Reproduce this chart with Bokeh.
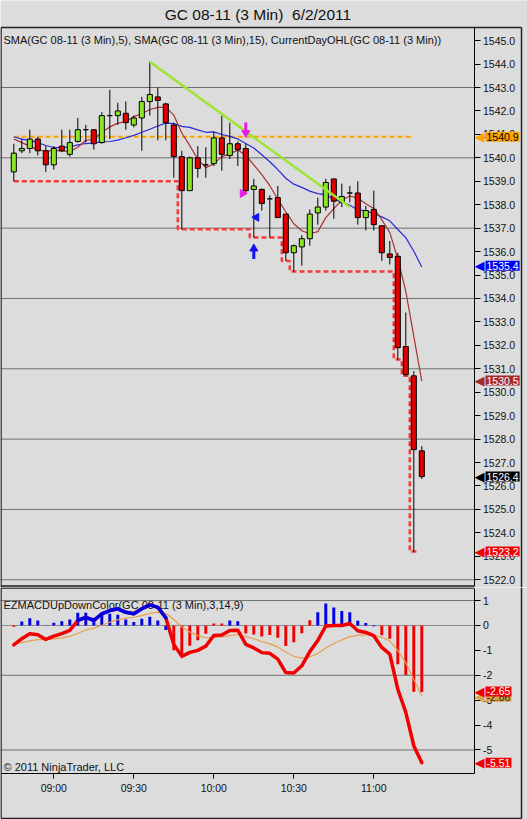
import numpy as np
import pandas as pd
from bokeh.plotting import figure
from bokeh.models import Range1d, FixedTicker, Label, NumeralTickFormatter, ColumnDataSource
from bokeh.layouts import column
from bokeh.embed import file_html
from bokeh.resources import INLINE

# ---------------- data ----------------
TITLE = "GC 08-11 (3 Min)\u00a0 6/2/2011"
PRICE_LEGEND = "SMA(GC 08-11 (3 Min),5), SMA(GC 08-11 (3 Min),15), CurrentDayOHL(GC 08-11 (3 Min))"
MACD_LEGEND = "EZMACDUpDownColor(GC 08-11 (3 Min),3,14,9)"
COPYRIGHT = "\u00a9 2011 NinjaTrader, LLC"

first_bar = "08:45"
bar_minutes = 3

opens = [1539.4, 1540.3, 1540.4, 1540.8, 1540.3, 1539.7, 1540.5, 1540.15, 1540.7, 1541.2,
         1541.2, 1540.65, 1541.8, 1541.8, 1541.9, 1541.4, 1541.7, 1542.4, 1542.6, 1542.3,
         1541.4, 1540.05, 1538.6, 1540.0, 1539.7, 1539.75, 1540.85, 1540.1, 1540.6, 1540.4,
         1538.65, 1538.65, 1538.25, 1538.3, 1537.6, 1535.95, 1536.2, 1536.55, 1537.65, 1537.9,
         1539.1, 1538.1, 1538.5, 1538.5, 1537.45, 1537.8, 1537.1, 1535.9, 1535.8, 1531.95,
         1530.7, 1527.5]
highs = [1540.6, 1540.8, 1541.2, 1540.9, 1540.5, 1540.5, 1541.2, 1541.2, 1541.7, 1541.4,
         1541.2, 1541.95, 1542.9, 1542.35, 1542.4, 1541.8, 1542.6, 1544.1, 1543.0, 1542.35,
         1541.5, 1540.3, 1540.05, 1540.5, 1540.45, 1541.1, 1541.8, 1541.5, 1540.7, 1540.6,
         1539.1, 1538.7, 1538.4, 1538.8, 1537.6, 1536.3, 1536.7, 1537.8, 1538.3, 1539.1,
         1539.1, 1538.9, 1538.8, 1539.0, 1537.95, 1538.6, 1537.1, 1536.45, 1535.95, 1533.4,
         1530.9, 1527.7]
lows = [1539.0, 1540.2, 1540.2, 1540.1, 1539.4, 1539.5, 1540.25, 1540.05, 1540.65, 1540.65,
        1540.35, 1540.6, 1540.8, 1541.4, 1541.2, 1541.3, 1540.3, 1541.8, 1540.75, 1540.75,
        1539.15, 1536.95, 1538.6, 1539.15, 1539.15, 1539.65, 1539.45, 1539.95, 1539.65, 1538.5,
        1536.6, 1537.75, 1536.6, 1537.45, 1535.6, 1535.15, 1535.4, 1536.25, 1537.15, 1537.75,
        1537.4, 1537.9, 1538.1, 1537.15, 1536.9, 1536.9, 1535.6, 1535.45, 1531.4, 1530.7,
        1523.2, 1526.3]
closes = [1540.2, 1540.4, 1540.8, 1540.3, 1539.7, 1540.4, 1540.3, 1540.65, 1541.2, 1541.2,
          1540.6, 1541.8, 1541.8, 1542.0, 1541.5, 1541.7, 1542.4, 1542.7, 1542.45, 1541.5,
          1540.05, 1538.6, 1540.0, 1539.55, 1539.7, 1540.85, 1540.15, 1540.6, 1540.35, 1538.6,
          1538.8, 1538.05, 1538.25, 1537.45, 1535.95, 1536.25, 1536.55, 1537.6, 1537.9, 1538.95,
          1538.15, 1538.35, 1538.5, 1537.45, 1537.75, 1537.15, 1535.95, 1535.75, 1531.9, 1530.75,
          1527.55, 1526.4]
# closes of the bars just before the visible window (estimated from where the averages start)
prior_closes = [1541.9, 1541.6, 1541.8, 1541.5, 1541.7, 1540.4, 1540.1, 1540.0, 1540.3,
                1540.2, 1541.15, 1541.55, 1541.1, 1540.0]
day_open = 1540.9

macd = [-0.78, -0.53, -0.33, -0.37, -0.56, -0.43, -0.33, -0.2, 0.2, 0.33,
        0.2, 0.47, 0.6, 0.67, 0.53, 0.47, 0.67, 0.83, 0.73, 0.31,
        -0.76, -1.24, -1.08, -1.0, -0.83, -0.4, -0.38, -0.2, -0.19, -0.76,
        -0.9, -1.09, -1.12, -1.35, -1.89, -1.91, -1.62, -1.05, -0.6, -0.02,
        0.0, 0.0, 0.08, -0.21, -0.28, -0.41, -0.88, -1.15, -2.56, -3.49,
        -4.83, -5.51]
signal_first = -0.73
signal_period = 9
hist_blue = [0, 1, 1, 1, 1, 1, 1, 1, 1, 1,
             1, 1, 1, 1, 1, 1, 1, 1, 1, 1,
             0, 0, 0, 0, 0, 0, 0, 1, 1, 0,
             0, 0, 0, 0, 0, 0, 0, 0, 1, 1,
             1, 1, 1, 1, 1, 1, 0, 0, 0, 0,
             0, 0]

trend_times = ["09:36", "10:51"]
trend_prices = [1544.1, 1537.9]

arrow_times = ["10:12", "10:15"]
arrow_tips = [1540.87, 1536.32]
arrow_dirs = ["down", "up"]
arrow_colors = ["#E61EE6", "#1414F0"]

tri_times = ["10:10:48", "10:16:00"]
tri_prices = [1538.48, 1537.46]
tri_dirs = ["right", "left"]
tri_colors = ["#E61EE6", "#1414F0"]

price_ticks = [1522.0, 1523.0, 1524.0, 1525.0, 1526.0, 1527.0, 1528.0, 1529.0, 1530.0, 1531.0,
               1532.0, 1533.0, 1534.0, 1535.0, 1536.0, 1537.0, 1538.0, 1539.0, 1540.0, 1541.0,
               1542.0, 1543.0, 1544.0, 1545.0]
price_grid = [1522.0, 1525.0, 1528.0, 1531.0, 1534.0, 1537.0, 1540.0, 1543.0]
macd_ticks = [1, 0, -1, -2, -3, -4, -5]
macd_grid = [1, -2, -5]
time_ticks = ["09:00", "09:30", "10:00", "10:30", "11:00"]

price_tag_values = [1540.9, 1535.4, 1530.5, 1526.4, 1523.2]
price_tag_fill = ["#FFA500", "#0000F0", "#A52A2A", "#000000", "#F00000"]
price_tag_text = ["#000000", "#FFFFFF", "#FFFFFF", "#FFFFFF", "#FFFFFF"]

macd_tag_values = [-2.86, -2.65, -5.51]
macd_tag_fill = ["#DCA64E", "#F00000", "#F00000"]
macd_tag_text = ["#222222", "#FFFFFF", "#FFFFFF"]

# ---------------- helpers ----------------
def to_min(s):
    parts = [float(v) for v in s.split(":")]
    mm = parts[0] * 60 + parts[1]
    if len(parts) > 2:
        mm += parts[2] / 60.0
    return mm

n = len(closes)
t = np.array([to_min(first_bar) + bar_minutes * i for i in range(n)], float)
o = np.array(opens); h = np.array(highs); l = np.array(lows); c = np.array(closes)

allc = pd.Series(prior_closes + closes)
sma5 = allc.rolling(5).mean().values[len(prior_closes):]
sma15 = allc.rolling(15).mean().values[len(prior_closes):]
day_low = np.minimum.accumulate(l)

m = np.array(macd)
alpha = 2.0 / (signal_period + 1)
sig = [signal_first]
for v in m[1:]:
    sig.append(sig[-1] + alpha * (v - sig[-1]))
sig = np.array(sig)
hist = m - sig

# ---------------- geometry (canvas pixels) ----------------
BG = "#DCDCDC"
FONT = "Liberation Sans"
W = 527
P1_H = 587          # price canvas height
P2_H = 232          # macd canvas height
PX_PER_MIN = 8.0 / 3.0
PX_PER_PT = 23.44
PX_PER_UNIT = 24.9
AXIS_PX = 473.5     # x pixel of the value axis line
RIGHT_EDGE = 521.0
PANEL_TOP = 27      # y pixel of the price panel top border
PANEL_BOTTOM = 585.5
MACD_BOTTOM = 186   # macd panel bottom (time axis), in macd canvas pixels
OUTER_BOTTOM = 231.0

x_start = t[0] - 13.3 / PX_PER_MIN
xr = Range1d(x_start, x_start + W / PX_PER_MIN)

def px_x(px):
    return x_start + px / PX_PER_MIN

price_top = 1545.56  # price at the panel top border
def py_price(py):
    return price_top - (py - PANEL_TOP) / PX_PER_PT
yr1 = Range1d(py_price(P1_H), py_price(0))

macd_top = 1.485     # value one pixel below the macd canvas top
def py_macd(py):
    return macd_top - (py - 1) / PX_PER_UNIT
yr2 = Range1d(py_macd(P2_H), py_macd(0))

axis_x = px_x(AXIS_PX)
right_x = px_x(RIGHT_EDGE)
left_x = px_x(0.5)
GREEN = "#8CE628"
RED = "#E00000"
BORDER = "#202020"

def style_value_axis(ax):
    ax.fixed_location = axis_x
    ax.major_tick_out = 6
    ax.major_tick_in = 0
    ax.minor_tick_line_color = None
    ax.major_label_standoff = 3
    ax.major_label_text_font = FONT
    ax.major_label_text_font_size = "10.5px"
    ax.major_label_text_color = "#111111"
    ax.axis_line_color = "black"

def add_tags(p, values, fills, texts, fmt):
    for v, f, tc in zip(values, fills, texts):
        p.add_layout(Label(x=px_x(484), y=v, text="\u25C0", text_align="right",
                           text_baseline="middle", text_font="DejaVu Sans",
                           text_font_size="13px", text_color=f))
        p.add_layout(Label(x=px_x(485), y=v, text=fmt.format(v), text_align="left",
                           text_baseline="middle", text_font=FONT, text_font_size="10.5px",
                           text_color=tc, background_fill_color=f, padding=1))

# ---------------- price panel ----------------
p1 = figure(frame_width=W, frame_height=P1_H, x_range=xr, y_range=yr1,
            output_backend="svg", toolbar_location=None, x_axis_location=None,
            y_axis_location="right", min_border=0,
            background_fill_color=BG, border_fill_color=BG)
p1.outline_line_color = None
p1.grid.visible = False
p1.yaxis.ticker = FixedTicker(ticks=price_ticks)
p1.yaxis.formatter = NumeralTickFormatter(format="0.0")
style_value_axis(p1.yaxis[0])
p1.yaxis.bounds = (py_price(PANEL_BOTTOM), price_top)

# grid lines and borders
pg = np.array(price_grid)
p1.segment(np.full(len(pg), xr.start), pg, np.full(len(pg), axis_x), pg,
           line_color="#6E6E6E", line_width=1)
p1.line([left_x, right_x], [price_top, price_top], line_color=BORDER, line_width=1.5)
p1.line([left_x, axis_x], [py_price(PANEL_BOTTOM)] * 2, line_color=BORDER, line_width=1.5)
p1.segment([left_x, right_x], [price_top] * 2, [left_x, right_x], [yr1.start] * 2,
           line_color=BORDER, line_width=1.5)

# current day open
p1.line(t[:n - 1], np.full(n - 1, day_open), line_color="#FFA500", line_width=2, line_dash="5 3")
# averages
p1.line(t, sma15, line_color="#2A2AD8", line_width=1.2)
p1.line(t, sma5, line_color="#A83232", line_width=1.2)
# current day low (step)
lx = np.append(t[:n - 1], t[n - 2] + bar_minutes / 2.0)
ly = np.append(day_low[:n - 1], day_low[n - 2])
p1.step(lx, ly, mode="center", line_color="#F03C3C", line_width=2.5, line_dash="5 3")

src = ColumnDataSource(dict(t=t, top=np.maximum(o, c), bottom=np.minimum(o, c), high=h, low=l,
                            fill=[GREEN if cc >= oo else RED for oo, cc in zip(o, c)]))
p1.segment("t", "high", "t", "low", source=src, line_color="black", line_width=1)
p1.vbar("t", 1.9, "top", "bottom", source=src, fill_color="fill", line_color="black", line_width=1)

# trend line
p1.line([to_min(s) for s in trend_times], trend_prices, line_color="#9AE632", line_width=2.5)

# arrows
HEAD = 8.0
hh = HEAD * np.sqrt(3) / 2
for ts, tip, d, col in zip(arrow_times, arrow_tips, arrow_dirs, arrow_colors):
    x = to_min(ts)
    s = 1 if d == "down" else -1
    center = tip + s * (2 * hh / 3) / PX_PER_PT
    p1.scatter([x], [center], marker="inverted_triangle" if d == "down" else "triangle",
               size=HEAD, fill_color=col, line_color=col)
    p1.segment([x], [tip + s * hh / PX_PER_PT], [x], [tip + s * 15 / PX_PER_PT],
               line_color=col, line_width=3)
for ts, pr, d, col in zip(tri_times, tri_prices, tri_dirs, tri_colors):
    p1.scatter([to_min(ts)], [pr], marker="triangle", size=8,
               angle=(-np.pi / 2 if d == "right" else np.pi / 2), fill_color=col, line_color=col)

# texts
p1.add_layout(Label(x=px_x(257.5), y=py_price(13.5), text=TITLE, text_align="center",
                    text_baseline="middle", text_font=FONT, text_font_size="15.5px",
                    text_color="#111111"))
p1.add_layout(Label(x=px_x(3), y=py_price(39), text=PRICE_LEGEND, text_align="left",
                    text_baseline="middle", text_font=FONT, text_font_size="11px",
                    text_color="#111111"))
add_tags(p1, price_tag_values, price_tag_fill, price_tag_text, "{:.1f}")

# ---------------- MACD panel ----------------
p2 = figure(frame_width=W, frame_height=P2_H, x_range=xr, y_range=yr2,
            output_backend="svg", toolbar_location=None, x_axis_location="below",
            y_axis_location="right", min_border=0,
            background_fill_color=BG, border_fill_color=BG)
p2.outline_line_color = None
p2.grid.visible = False
p2.yaxis.ticker = FixedTicker(ticks=macd_ticks)
p2.yaxis.major_label_overrides = {v: str(v) for v in macd_ticks}
style_value_axis(p2.yaxis[0])
p2.yaxis.bounds = (py_macd(MACD_BOTTOM), py_macd(0.5))

tick_min = [to_min(s) for s in time_ticks]
p2.xaxis.ticker = FixedTicker(ticks=tick_min)
p2.xaxis.major_label_overrides = {k: s for k, s in zip(tick_min, time_ticks)}
p2.xaxis.fixed_location = py_macd(MACD_BOTTOM)
p2.xaxis.bounds = (left_x, axis_x)
p2.xaxis.major_tick_out = 5
p2.xaxis.major_tick_in = 0
p2.xaxis.minor_tick_line_color = None
p2.xaxis.major_label_standoff = 3
p2.xaxis.major_label_text_font = FONT
p2.xaxis.major_label_text_font_size = "10.5px"
p2.xaxis.major_label_text_color = "#111111"
p2.xaxis.axis_line_color = "black"

mg = np.array(macd_grid, float)
p2.segment(np.full(len(mg), xr.start), mg, np.full(len(mg), axis_x), mg,
           line_color="#6E6E6E", line_width=1)
p2.line([left_x, axis_x], [py_macd(0.5)] * 2, line_color=BORDER, line_width=1.5)
p2.line([left_x, axis_x], [0, 0], line_color="#8C8C8C", line_width=1)
p2.line([left_x, right_x], [py_macd(OUTER_BOTTOM)] * 2, line_color=BORDER, line_width=1.5)
p2.segment([left_x, right_x], [yr2.end] * 2, [left_x, right_x], [py_macd(OUTER_BOTTOM)] * 2,
           line_color=BORDER, line_width=1.5)

p2.add_layout(Label(x=px_x(3), y=py_macd(17), text=MACD_LEGEND, text_align="left",
                    text_baseline="middle", text_font=FONT, text_font_size="11px",
                    text_color="#111111", level="underlay"))

hsrc = ColumnDataSource(dict(t=t, top=hist, col=["#0000E6" if b else "#F00000" for b in hist_blue]))
p2.vbar("t", 1.1, "top", 0, source=hsrc, fill_color="col", line_color=None)
p2.line(t, sig, line_color="#E8A048", line_width=1.2)
p2.line(t, m, line_color="#F00000", line_width=3.5, line_join="round", line_cap="round")
p2.line(t, np.where(m > 0, m, np.nan), line_color="#0000E6", line_width=3.5,
        line_join="round", line_cap="round")

p2.add_layout(Label(x=px_x(3), y=py_macd(179), text=COPYRIGHT, text_align="left",
                    text_baseline="middle", text_font=FONT, text_font_size="11px",
                    text_color="#111111"))
add_tags(p2, macd_tag_values, macd_tag_fill, macd_tag_text, "{:.2f}")

layout = column(p1, p2, spacing=0)
open("out.html", "w").write(file_html(layout, INLINE))
